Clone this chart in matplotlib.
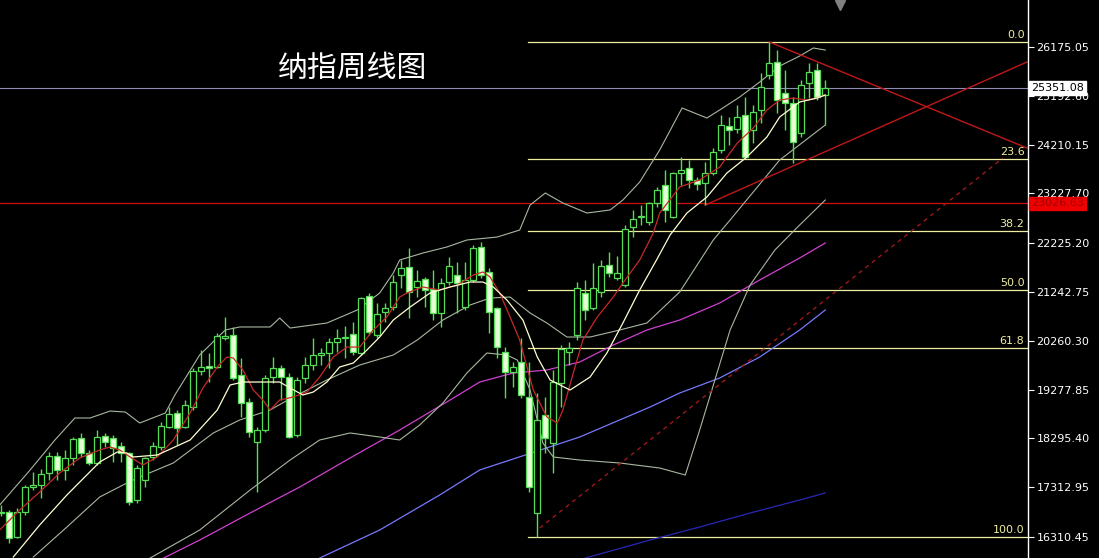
import numpy as np
import matplotlib
matplotlib.use("Agg")
from matplotlib import pyplot as plt
import matplotlib.transforms as mtransforms

# weekly OHLC (oldest first)
opens = [16794, 16814, 16311, 16814, 17318, 17358, 17600, 17942, 17660, 17902,
         18304, 18002, 17801, 18344, 18304, 18143, 18002, 17056, 17459, 17922,
         18123, 18526, 18807, 18526, 18928, 19653, 19753, 19733, 20317, 20377,
         19572, 19029, 18224, 18465, 19532, 19713, 19532, 18365, 19512, 19773,
         19975, 20015, 20236, 20317, 20398, 20015, 21162, 20377, 20840, 20941,
         21585, 21746, 21344, 21505, 21303, 20820, 21444, 21585, 20941, 21485,
         22149, 21646, 20921, 20035, 19633, 19834, 19130, 16794, 18767, 18204,
         19411, 20035, 20377, 21223, 20921, 21243, 21787, 21525, 21384, 22551,
         22753, 22652, 23035, 23397, 22753, 23639, 23739, 23498, 23437, 23639,
         24102, 24585, 24524, 24806, 24504, 24907, 25611, 25873, 25249, 25048,
         24444, 25450, 25712, 25209]
highs = [16955, 16855, 16895, 17358, 17620, 17680, 18022, 18022, 18063, 18324,
         18405, 18063, 18465, 18405, 18365, 18224, 18022, 17761, 17922, 18224,
         18626, 18928, 18868, 19069, 19713, 20075, 20015, 20418, 20740, 20539,
         19914, 19109, 18526, 19572, 19934, 19773, 19613, 19532, 19934, 20317,
         20115, 20317, 20498, 20559, 20639, 21142, 21223, 21022, 21022, 21585,
         21887, 22129, 21686, 21545, 21686, 21525, 21948, 21847, 21847, 22189,
         22250, 21726, 20941, 20135, 19834, 20317, 19834, 19210, 19130, 19673,
         20176, 20236, 21444, 21485, 21827, 21887, 22048, 21968, 22592, 22894,
         22994, 23055, 23357, 23699, 23659, 23961, 23900, 23558, 23860, 24142,
         24806, 24766, 25007, 25168, 25007, 25652, 26276, 26114, 25712, 25168,
         25511, 25853, 25853, 25511]
lows = [16734, 16190, 16291, 16754, 17257, 17096, 17459, 17459, 17459, 17761,
        17922, 17761, 17761, 18123, 17821, 17821, 16955, 16996, 17318, 17861,
        18063, 18505, 18163, 18505, 18868, 19572, 19431, 19713, 20277, 19472,
        18727, 18324, 17217, 18425, 19411, 19069, 18304, 18324, 19411, 19673,
        19773, 19713, 20035, 19914, 19975, 19975, 20377, 20317, 20639, 20881,
        21324, 20720, 21142, 20941, 20679, 20539, 21384, 20820, 20881, 21444,
        21525, 20418, 19914, 19109, 19331, 19109, 17217, 16310.45, 18002, 17600,
        18928, 19773, 20277, 20679, 20881, 21142, 21545, 21485, 21344, 22350,
        22592, 22592, 22954, 22652, 22733, 23397, 23337, 23296, 22994, 23598,
        24041, 24202, 24444, 23940, 24243, 24645, 25531, 24846, 24504, 23840,
        24363, 25148, 25108, 24605]
closes = [16814, 16291, 16814, 17318, 17358, 17580, 17942, 17660, 17902, 18284,
          18002, 17801, 18324, 18224, 18103, 18002, 17016, 17700, 17902, 18143,
          18546, 18787, 18505, 18968, 19653, 19733, 19713, 20357, 20357, 19512,
          19009, 18425, 18465, 19512, 19713, 19532, 18324, 19472, 19773, 19975,
          20015, 20236, 20317, 20337, 20035, 21122, 20438, 20800, 20921, 21444,
          21726, 21243, 21464, 21283, 20820, 21424, 21767, 21424, 21485, 22129,
          21585, 20840, 20135, 19633, 19733, 19170, 17318, 18666, 18304, 19431,
          20095, 20115, 21324, 20881, 21324, 21767, 21626, 21626, 22511, 22713,
          22773, 23035, 23296, 22894, 23639, 23699, 23498, 23417, 23639, 24061,
          24605, 24504, 24766, 23961, 24866, 25370, 25853, 25108, 25048, 24263,
          25410, 25672, 25168, 25351.08]

# indicator lines, sampled along the curves: (week, price)
ma_red_w = [-0.2, 2.3, 4.8, 7.3, 9.8, 12.3, 13.6, 14.8, 16.1, 17.7, 19.5, 21.5, 23.6,
            25.2, 27.0, 28.2, 29.0, 30.2, 31.5, 32.7, 33.6, 34.8, 36.5, 38.2, 39.8,
            41.5, 43.2, 44.8, 46.5, 48.2, 49.8, 50.7, 52.7, 54.8, 57.0, 59.0, 60.2,
            61.1, 62.3, 63.6, 64.8, 66.5, 68.2, 69.5, 70.2, 71.5, 72.7, 74.5, 76.5,
            77.7, 79.8, 81.5, 82.3, 84.8, 87.3, 89.8, 92.0, 94.0, 95.7, 97.3, 99.0,
            100.7, 102.0, 103.0]
ma_red_p = [16452, 16855, 17217, 17600, 17902, 18063, 18123, 18063, 17922, 17761,
            17922, 18264, 18807, 19311, 19733, 19934, 19914, 19673, 19270, 19069,
            18868, 19069, 19130, 19230, 19532, 19934, 20135, 20135, 20478, 20740,
            21142, 21223, 21344, 21283, 21384, 21585, 21646, 21545, 21223, 20740,
            20277, 19270, 18727, 18606, 18868, 19613, 20277, 20740, 21142, 21424,
            21887, 22431, 22833, 23357, 23498, 23759, 24242, 24544, 24907, 25108,
            25148, 25108, 25148, 25209]

ma_white_w = [1.5, 4.8, 8.2, 12.3, 14.5, 15.7, 16.5, 19.5, 23.6, 27.0, 28.6, 30.2,
              33.6, 34.8, 36.1, 37.7, 39.0, 40.7, 42.3, 44.0, 45.7, 47.3, 49.0, 51.1,
              53.6, 56.1, 58.6, 60.2, 61.5, 63.2, 65.2, 67.0, 68.6, 71.1, 73.6, 75.7,
              77.7, 79.8, 81.9, 83.6, 85.7, 88.2, 90.7, 93.2, 95.7, 97.3, 99.8, 102.0,
              103.0]
ma_white_p = [15908, 16553, 17157, 17821, 18022, 18002, 17922, 17962, 18264, 18868,
              19371, 19431, 19431, 19431, 19311, 19170, 19230, 19431, 19733, 19814,
              20075, 20337, 20679, 20941, 21223, 21344, 21444, 21444, 21344, 21082,
              20679, 19934, 19472, 19270, 19532, 20015, 20619, 21283, 21887, 22390,
              22833, 23155, 23638, 23961, 24363, 24766, 25068, 25148, 25209]

band_up_w = [-0.2, 3.6, 6.7, 9.2, 11.1, 13.6, 15.5, 17.3, 20.5, 21.7, 24.8, 28.0,
             29.8, 33.6, 34.8, 36.1, 40.7, 44.5, 47.3, 49.0, 49.8, 52.7, 55.7, 58.2,
             62.0, 64.8, 66.1, 68.0, 70.2, 73.2, 76.1, 77.7, 79.8, 82.3, 85.1, 88.2,
             89.8, 92.3, 94.8, 97.3, 99.8, 101.5, 103.0]
band_up_p = [16955, 17660, 18264, 18707, 18707, 18847, 18827, 18606, 18807, 19170,
             19975, 20478, 20539, 20539, 20720, 20518, 20619, 20881, 21223, 21626,
             21887, 22028, 22149, 22290, 22350, 22491, 22994, 23236, 23035, 22833,
             22894, 23095, 23457, 24102, 24947, 24746, 24907, 25168, 25470, 25792,
             25994, 26155, 26114]

band_mid_w = [4.0, 8.2, 12.3, 15.7, 17.3, 21.5, 26.5, 29.8, 33.6, 36.5, 40.7, 44.8,
              49.0, 52.0, 55.2, 58.6, 61.1, 63.6, 66.1, 68.2, 70.7, 73.6, 77.3, 80.7,
              84.8, 89.0, 91.1, 97.3, 103.0]
band_mid_p = [15908, 16512, 17116, 17398, 17519, 17801, 18405, 18666, 18868, 19130,
              19472, 19773, 19975, 20277, 20679, 20982, 21122, 21142, 20820, 20619,
              20337, 20337, 20478, 20619, 21243, 22290, 22692, 23900, 24605]

band_low_w = [18.6, 24.8, 31.1, 36.1, 39.8, 43.6, 47.3, 49.8, 52.3, 55.2, 58.2, 60.7,
              63.2, 64.5, 66.1, 67.7, 69.0, 72.3, 77.3, 82.3, 85.5, 87.3, 89.2, 91.1,
              93.6, 96.7, 99.8, 103.0]
band_low_p = [15888, 16452, 17257, 17861, 18264, 18405, 18324, 18264, 18566, 19009,
              19613, 20015, 19975, 19874, 19270, 18204, 17922, 17861, 17801, 17700,
              17559, 18465, 19472, 20478, 21384, 22089, 22592, 23095]

ma_magenta_w = [19.8, 24.8, 31.1, 37.3, 43.6, 49.8, 56.1, 59.8, 64.0, 68.2, 72.3,
                76.5, 80.7, 84.8, 89.8, 94.8, 99.8, 103.0]
ma_magenta_p = [15848, 16250, 16794, 17317, 17902, 18465, 19069, 19431, 19613, 19673,
                19834, 20176, 20478, 20679, 21022, 21485, 21928, 22230]

ma_blue_w = [39.8, 47.3, 54.8, 59.8, 63.6, 72.3, 81.1, 84.8, 89.8, 94.8, 99.8, 103.0]
ma_blue_p = [15888, 16452, 17157, 17660, 17861, 18324, 18928, 19210, 19512, 19934,
             20478, 20881]

ma_navy_w = [73.0, 81.1, 87.3, 93.6, 99.8, 103.0]
ma_navy_p = [15888, 16250, 16512, 16794, 17056, 17197]

# drawn objects
fib_high = 26276
fib_low = 16310.45
fib_ratios = [0.0, 23.6, 38.2, 50.0, 61.8, 100.0]
fib_start = 65.8
trend_down = ([96, 128.2], [26276, 24142])
trend_up = ([88, 128.2], [22994, 25873])
trend_dash = ([67.3, 125.2], [16492, 23940])
last_price = 25351.08
red_level = 23026.63

tick_values = [26175.05, 25192.60, 24210.15, 23227.70, 22225.20, 21242.75,
               20260.30, 19277.85, 18295.40, 17312.95, 16310.45]

green = "#55dd55"
fill_down = "#e6ffd6"
fib_color = "#eeeea0"

fig = plt.figure(figsize=(10.99, 5.58), dpi=100, facecolor="black")
ax = fig.add_axes([0, 0, 1028 / 1099, 1])
ax.set_facecolor("black")

weeks = np.arange(len(closes))
o = np.array(opens)
c = np.array(closes)
up = c >= o

# overlays
ax.plot(ma_navy_w, ma_navy_p, color="#2828b8", lw=0.9, zorder=2)
ax.plot(ma_blue_w, ma_blue_p, color="#7878ff", lw=0.9, zorder=2)
ax.plot(ma_magenta_w, ma_magenta_p, color="#d040d0", lw=0.9, zorder=2)
for bw, bp in [(band_up_w, band_up_p), (band_mid_w, band_mid_p), (band_low_w, band_low_p)]:
    ax.plot(bw, bp, color="#a8b8a0", lw=0.8, zorder=2)

ax.axhline(last_price, color="#8c8cb4", lw=0.8, zorder=1)
ax.axhline(red_level, color="#d01010", lw=0.9, zorder=1)

for r in fib_ratios:
    lvl = fib_high - r / 100 * (fib_high - fib_low)
    ax.plot([fib_start, 200], [lvl, lvl], color=fib_color, lw=0.9, zorder=1)
    ax.text(127.9, lvl + 40, f"{r:.1f}", color=fib_color, fontsize=8,
            ha="right", va="bottom", zorder=6)

ax.plot(*trend_down, color="#c01818", lw=1.0, zorder=2)
ax.plot(*trend_up, color="#c01818", lw=1.0, zorder=2)
ax.plot(*trend_dash, color="#a01818", lw=1.0, ls=(0, (3, 3)), zorder=2)

# candles
ax.vlines(weeks, lows, highs, color=green, lw=1.0, zorder=3)
heights = np.maximum(np.abs(c - o), 25)
bottoms = np.minimum(o, c)
ax.bar(weeks, heights, bottom=bottoms, width=0.75,
       color=np.where(up, "black", fill_down), edgecolor=green, linewidth=0.9, zorder=4)

ax.plot(ma_red_w, ma_red_p, color="#c82828", lw=0.9, zorder=5)
ax.plot(ma_white_w, ma_white_p, color="#ffffd0", lw=0.9, zorder=5)

ax.set_xlim(-0.1625, 128.34)
ax.set_ylim(15888.5, 27121.2)

ax.yaxis.tick_right()
ax.set_yticks(tick_values)
ax.set_yticklabels([f"{v:.2f}" for v in tick_values])
ax.tick_params(axis="y", colors="white", labelsize=8, length=4, width=0.8, pad=2)
ax.set_xticks([])
for side in ["left", "top", "bottom"]:
    ax.spines[side].set_visible(False)
ax.spines["right"].set_color("white")
ax.spines["right"].set_linewidth(1.0)

trans = mtransforms.blended_transform_factory(ax.transAxes, ax.transData)
ax.text(1.003, last_price, "25351.08", transform=trans, color="black", fontsize=8,
        va="center", ha="left", clip_on=False, zorder=10,
        bbox=dict(boxstyle="square,pad=0.15", fc="white", ec="white"))
ax.text(1.003, red_level, "23026.63", transform=trans, color="#a00000", fontsize=8,
        va="center", ha="left", clip_on=False, zorder=10,
        bbox=dict(boxstyle="square,pad=0.15", fc="#ee0000", ec="#ee0000"))

ax.text(278 / 1028, 1 - 68 / 558, "纳指周线图", transform=ax.transAxes, color="white",
        fontsize=21.5, family=["Noto Sans CJK SC", "DejaVu Sans"], va="center", ha="left")

ax.plot([840 / 1028], [1 - 5 / 558], marker="v", color="#808080", markersize=7,
        transform=ax.transAxes, clip_on=False)

fig.savefig("out.png", dpi=100, facecolor="black")
